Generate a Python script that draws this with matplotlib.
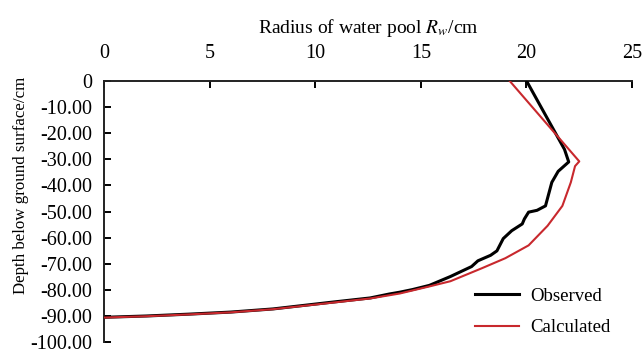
import matplotlib
matplotlib.use("Agg")
import matplotlib.pyplot as plt

# Observed profile of the water pool (radius in cm, depth in cm)
obs_r = [20.0, 21.8, 22.0, 21.5, 21.2, 20.9, 20.5, 20.1, 19.9, 19.8, 19.3, 18.9,
         18.6, 18.3, 17.7, 17.4, 16.4, 15.4, 14.6, 14.0, 13.5, 12.6, 10.7, 8.0, 6.0,
         4.0, 2.0, 0.0]
obs_d = [0, -26.2, -31.0, -34.6, -38.8, -47.8, -49.5, -50.2, -52.8, -54.7, -57.3, -60.3,
         -65.0, -66.7, -68.8, -71.0, -74.8, -78.2, -79.8, -80.8, -81.5, -83.0, -84.7, -87.2, -88.4,
         -89.2, -89.9, -90.4]

# Calculated profile
calc_r = [19.2, 22.5, 22.3, 22.1, 21.7, 21.0, 20.1, 19.0, 17.9, 16.4, 15.4, 14.0,
          12.6, 10.7, 8.0, 6.0, 4.0, 2.0, 0.0]
calc_d = [0, -30.8, -32.6, -38.8, -47.8, -55.4, -62.9, -67.8, -71.6, -76.6, -78.6, -81.3,
          -83.2, -84.9, -87.3, -88.5, -89.3, -90.0, -90.5]

x_ticks = [0, 5, 10, 15, 20, 25]
y_ticks = [0, -10, -20, -30, -40, -50, -60, -70, -80, -90, -100]

plt.rcParams["font.family"] = ["Liberation Serif", "DejaVu Serif"]
plt.rcParams["mathtext.fontset"] = "stix"

fig = plt.figure(figsize=(6.43, 3.53), dpi=100)
ax = fig.add_axes([0.162, 0.03, 0.821, 0.741])

ax.plot(obs_r, obs_d, color="black", lw=2.2, label="Observed", zorder=3)
ax.plot(calc_r, calc_d, color="#c8282d", lw=1.5, label="Calculated", zorder=4)

ax.set_xlim(0, 25)
ax.set_ylim(-100, 0)
ax.set_xticks(x_ticks)
ax.set_yticks(y_ticks)
ax.set_yticklabels(["0"] + [f"{v:.2f}" for v in y_ticks[1:]])

ax.xaxis.tick_top()
ax.xaxis.set_label_position("top")
ax.spines["bottom"].set_visible(False)
ax.spines["right"].set_visible(False)
for s in ("top", "left"):
    ax.spines[s].set_linewidth(1.4)
    ax.spines[s].set_color("#222222")
ax.tick_params(axis="x", direction="in", length=5, width=1.4, pad=13, labelsize=14.5)
ax.tick_params(axis="y", direction="in", length=5, width=1.4, pad=8.5, labelsize=14.5)

ax.set_xlabel("Radius of water pool $R_w$/cm", fontsize=14, labelpad=8)
ax.set_ylabel("Depth below ground surface/cm", fontsize=12.2)
ax.yaxis.set_label_coords(-0.143, 0.6)

ax.legend(loc="lower right", bbox_to_anchor=(0.975, 0.0), frameon=False,
          fontsize=13.5, handlelength=2.3, labelspacing=0.75, handletextpad=0.6,
          bbox_transform=fig.transFigure)

fig.savefig("out.png", dpi=100)
